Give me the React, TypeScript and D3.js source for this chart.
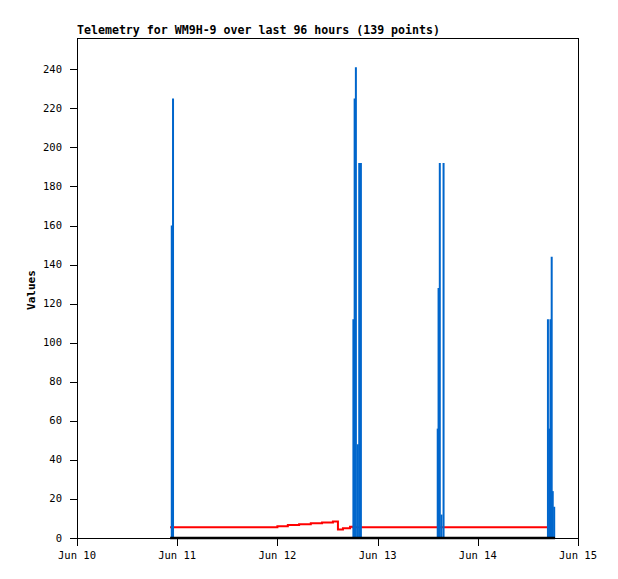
import React from "react";
import * as d3 from "d3";

const title = "Telemetry for WM9H-9 over last 96 hours (139 points)";
const yLabel = "Values";
const yTicks = [0, 20, 40, 60, 80, 100, 120, 140, 160, 180, 200, 220, 240];
const xTickDays = [10, 11, 12, 13, 14, 15];

// hours since Jun 10 00:00
const blueHours = [22.7, 23.0, 66.2, 66.5, 66.8, 67.25, 67.6, 68.0, 86.4, 86.6, 86.9, 87.3, 87.8, 112.8, 113.1, 113.4, 113.7, 113.95, 114.3];
const blueValues = [160, 225, 112, 225, 241, 48, 192, 192, 56, 128, 192, 12, 192, 112, 56, 112, 144, 24, 16];

const redHours = [22.3, 48, 50.5, 53.2, 56.0, 58.7, 61.3, 62.5, 63.7, 65.4, 66.0, 112.6];
const redValues = [5.5, 6.0, 6.7, 7.0, 7.5, 8.0, 8.4, 4.3, 5.0, 5.8, 5.5, 5.5];

const blackHours = [22.3, 114.5];
const blackValues = [0, 0];

const W = 618, H = 579;
const L = 77, R = 578, T = 38, B = 538;
const base = new Date(2024, 5, 10, 0, 0, 0);
const toDate = (h: number) => new Date(base.getTime() + h * 3600 * 1000);

export default function App() {
  const x = d3.scaleTime().domain([toDate(0), toDate(120)]).range([L, R]);
  const y = d3.scaleLinear().domain([0, 256]).range([B, T]);
  const fmt = d3.timeFormat("%b %d");
  const mono = "'DejaVu Sans Mono', monospace";

  const redLine = d3
    .line<number>()
    .x((_, i) => x(toDate(redHours[i])))
    .y((v) => y(v))
    .curve(d3.curveStepAfter)(redValues) as string;
  const blackLine = d3
    .line<number>()
    .x((_, i) => x(toDate(blackHours[i])))
    .y((v) => y(v))(blackValues) as string;

  return (
    <svg width={W} height={H} style={{ position: "fixed", left: 0, top: 0, background: "#fff" }}>
      <rect x={0} y={0} width={W} height={H} fill="#fff" />
      <text x={L} y={34} fontFamily={mono} fontSize={11.6} fontWeight="bold" fill="#000">
        {title}
      </text>
      <text
        transform={`translate(35,${(T + B) / 2 + 2}) rotate(-90)`}
        textAnchor="middle"
        fontFamily={mono}
        fontSize={11}
        fontWeight="bold"
        fill="#000"
      >
        {yLabel}
      </text>
      {yTicks.map((t) => (
        <g key={t}>
          <line x1={L - 7} x2={L} y1={Math.round(y(t)) + 0.5} y2={Math.round(y(t)) + 0.5} stroke="#000" />
          <text x={62} y={y(t) + 3.5} textAnchor="end" fontFamily={mono} fontSize={10.5} fill="#000">
            {t}
          </text>
        </g>
      ))}
      {xTickDays.map((d) => {
        const dt = new Date(2024, 5, d);
        const px = Math.round(x(dt)) + 0.5;
        return (
          <g key={d}>
            <line x1={px} x2={px} y1={B} y2={B + 8} stroke="#000" />
            <text x={x(dt)} y={559} textAnchor="middle" fontFamily={mono} fontSize={10.5} fill="#000">
              {fmt(dt)}
            </text>
          </g>
        );
      })}
      <path d={redLine} fill="none" stroke="#ff0000" strokeWidth={2} />
      {blueHours.map((h, i) => (
        <line
          key={i}
          x1={x(toDate(h))}
          x2={x(toDate(h))}
          y1={y(0)}
          y2={y(blueValues[i])}
          stroke="#0066cc"
          strokeWidth={2}
        />
      ))}
      <path d={blackLine} fill="none" stroke="#000" strokeWidth={2.5} />
      <rect x={L + 0.5} y={T + 0.5} width={R - L} height={B - T} fill="none" stroke="#000" strokeWidth={1} />
    </svg>
  );
}
